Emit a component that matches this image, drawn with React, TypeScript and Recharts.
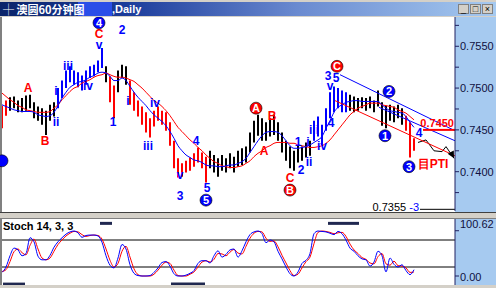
import React from 'react'
import { ComposedChart, Bar, Line, XAxis, YAxis, Cell, ReferenceLine, ReferenceDot } from 'recharts'

// price bars (one per hour)
const highs = [
  0.7479, 0.7485, 0.7489, 0.7490, 0.7485, 0.7488, 0.7491, 0.7492, 0.7483, 0.7478,
  0.7476, 0.7473, 0.7480, 0.7483, 0.7500, 0.7509, 0.7521, 0.7526, 0.7521, 0.7519,
  0.7515, 0.7521, 0.7526, 0.7528, 0.7533, 0.7548, 0.7526, 0.7514, 0.7503, 0.7521,
  0.7528, 0.7526, 0.7509, 0.7495, 0.7485, 0.7478, 0.7471, 0.7464, 0.7473, 0.7478,
  0.7473, 0.7471, 0.7459, 0.7437, 0.7416, 0.7410, 0.7413, 0.7417, 0.7422, 0.7429,
  0.7423, 0.7418, 0.7425, 0.7420, 0.7416, 0.7420, 0.7416, 0.7422, 0.7418, 0.7425,
  0.7428, 0.7430, 0.7447, 0.7461, 0.7468, 0.7464, 0.7459, 0.7464, 0.7468, 0.7459,
  0.7447, 0.7437, 0.7430, 0.7425, 0.7431, 0.7430, 0.7435, 0.7437, 0.7461, 0.7466,
  0.7456, 0.7476, 0.7495, 0.7502, 0.7500, 0.7497, 0.7495, 0.7492, 0.7490, 0.7488,
  0.7489, 0.7488, 0.7490, 0.7485, 0.7497, 0.7483, 0.7479, 0.7480, 0.7478, 0.7480,
  0.7476, 0.7467, 0.7459, 0.7440,
]
const lows = [
  0.7452, 0.7467, 0.7473, 0.7476, 0.7471, 0.7471, 0.7473, 0.7476, 0.7464, 0.7461,
  0.7456, 0.7444, 0.7461, 0.7466, 0.7476, 0.7488, 0.7500, 0.7507, 0.7504, 0.7501,
  0.7497, 0.7504, 0.7512, 0.7514, 0.7519, 0.7524, 0.7507, 0.7483, 0.7464, 0.7495,
  0.7512, 0.7504, 0.7480, 0.7473, 0.7466, 0.7456, 0.7447, 0.7441, 0.7454, 0.7461,
  0.7456, 0.7449, 0.7431, 0.7404, 0.7393, 0.7394, 0.7399, 0.7401, 0.7406, 0.7411,
  0.7404, 0.7387, 0.7404, 0.7399, 0.7394, 0.7401, 0.7399, 0.7404, 0.7399, 0.7406,
  0.7408, 0.7411, 0.7423, 0.7435, 0.7443, 0.7437, 0.7437, 0.7442, 0.7444, 0.7437,
  0.7423, 0.7413, 0.7404, 0.7401, 0.7411, 0.7413, 0.7417, 0.7419, 0.7437, 0.7442,
  0.7432, 0.7449, 0.7464, 0.7471, 0.7476, 0.7471, 0.7471, 0.7473, 0.7471, 0.7473,
  0.7476, 0.7473, 0.7476, 0.7471, 0.7478, 0.7455, 0.7452, 0.7461, 0.7459, 0.7464,
  0.7456, 0.7449, 0.7417, 0.7425,
]
// r = red wave, b = blue wave, k = plain
const barColors = 'rrkkkkkkkkkkkkbbbbbbbbbbbbkrrkkkrrrrrrrrrrrrrrrrrrrrkkkkkkkkkkkkkkkkkkkkkkkkkkbbbbbbbbbkkkkkkkkkkkkkkrrr'.split('')

const maSlow = [
  0.7494, 0.7490, 0.7486, 0.7483, 0.7479, 0.7477, 0.7474, 0.7473, 0.7472, 0.7471,
  0.7471, 0.7471, 0.7472, 0.7476, 0.7480, 0.7486, 0.7491, 0.7496, 0.7500, 0.7502,
  0.7506, 0.7508, 0.7510, 0.7513, 0.7515, 0.7516, 0.7518, 0.7516, 0.7514, 0.7513,
  0.7513, 0.7512, 0.7510, 0.7508, 0.7504, 0.7500, 0.7495, 0.7490, 0.7485, 0.7482,
  0.7478, 0.7473, 0.7467, 0.7460, 0.7453, 0.7448, 0.7443, 0.7438, 0.7434, 0.7429,
  0.7425, 0.7420, 0.7416, 0.7412, 0.7410, 0.7407, 0.7406, 0.7405, 0.7405, 0.7406,
  0.7407, 0.7410, 0.7413, 0.7418, 0.7422, 0.7425, 0.7429, 0.7431, 0.7434, 0.7435,
  0.7435, 0.7435, 0.7434, 0.7434, 0.7432, 0.7431, 0.7430, 0.7429, 0.7429, 0.7430,
  0.7431, 0.7434, 0.7438, 0.7444, 0.7450, 0.7456, 0.7462, 0.7468, 0.7472, 0.7476,
  0.7478, 0.7480, 0.7482, 0.7482, 0.7482, 0.7480, 0.7479, 0.7478, 0.7477, 0.7474,
  0.7472, 0.7470, 0.7466, 0.7462,
]
const maFast = [
  0.7480, 0.7478, 0.7476, 0.7474, 0.7473, 0.7472, 0.7472, 0.7472, 0.7471, 0.7468,
  0.7467, 0.7466, 0.7467, 0.7471, 0.7479, 0.7488, 0.7495, 0.7501, 0.7504, 0.7507,
  0.7508, 0.7510, 0.7513, 0.7515, 0.7518, 0.7519, 0.7518, 0.7514, 0.7509, 0.7509,
  0.7512, 0.7509, 0.7502, 0.7495, 0.7489, 0.7484, 0.7479, 0.7473, 0.7468, 0.7464,
  0.7460, 0.7455, 0.7448, 0.7440, 0.7431, 0.7425, 0.7420, 0.7417, 0.7414, 0.7413,
  0.7411, 0.7408, 0.7407, 0.7407, 0.7406, 0.7406, 0.7407, 0.7408, 0.7408, 0.7410,
  0.7412, 0.7416, 0.7423, 0.7430, 0.7437, 0.7443, 0.7447, 0.7448, 0.7448, 0.7447,
  0.7443, 0.7437, 0.7431, 0.7428, 0.7428, 0.7429, 0.7430, 0.7432, 0.7435, 0.7438,
  0.7442, 0.7452, 0.7461, 0.7471, 0.7477, 0.7480, 0.7483, 0.7484, 0.7485, 0.7485,
  0.7484, 0.7484, 0.7484, 0.7484, 0.7484, 0.7480, 0.7476, 0.7473, 0.7472, 0.7471,
  0.7470, 0.7466, 0.7459, 0.7453,
]

// projected path drawn after the last bar
const projIdx = [104, 106, 108, 110, 111, 113]
const projVal = [0.7435, 0.7438, 0.7425, 0.7424, 0.7430, 0.7416]

const stochK = [
  8, 20, 45, 62, 58, 45, 50, 85, 76, 44,
  36, 36, 46, 64, 76, 85, 93, 98, 100, 96,
  86, 90, 91, 91, 89, 75, 45, 24, 18, 40,
  70, 60, 25, 6, 1, 0, 0, 1, 8, 18,
  30, 32, 22, 5, 0, 0, 2, 6, 12, 28,
  34, 34, 29, 45, 56, 42, 48, 58, 60, 42,
  56, 76, 92, 98, 100, 94, 74, 80, 76, 55,
  38, 20, 5, 0, 9, 28, 35, 50, 94, 100,
  99, 98, 95, 92, 99, 94, 80, 62, 55, 45,
  38, 36, 22, 31, 55, 45, 9, 40, 26, 20,
  25, 12, 3, 14,
]
const stochD = [
  10, 14, 32, 54, 60, 52, 47, 68, 82, 60,
  40, 36, 40, 55, 70, 80, 89, 95, 99, 98,
  92, 88, 90, 91, 90, 82, 60, 35, 20, 28,
  55, 66, 42, 16, 3, 0, 0, 0, 4, 13,
  24, 31, 28, 13, 1, 0, 0, 4, 9, 20,
  31, 34, 31, 37, 50, 49, 45, 53, 59, 51,
  49, 66, 84, 95, 99, 98, 84, 77, 78, 65,
  46, 29, 12, 1, 4, 18, 32, 42, 72, 97,
  100, 99, 97, 94, 96, 97, 88, 71, 58, 50,
  41, 37, 29, 27, 43, 50, 27, 24, 33, 23,
  22, 18, 8, 9,
]

const priceTicks = [0.7375, 0.74, 0.7425, 0.745, 0.7475, 0.75, 0.7525, 0.755, 0.7575]
const majorTicks = [0.74, 0.745, 0.75, 0.755]

const RED = '#ff0000'
const BLUE = '#0000ff'
const colorOf: Record<string, string> = { r: RED, b: BLUE, k: '#000000' }

// Elliott wave labels: [text, bar index, price, colour, circled]
const waveLabels: [string, number, number, string, boolean][] = [
  ['A', 6.5, 0.7500, RED, false],
  ['B', 10.75, 0.7437, RED, false],
  ['i', 13.5, 0.7497, BLUE, false],
  ['ii', 13.5, 0.7460, BLUE, false],
  ['iii', 16.5, 0.7527, BLUE, false],
  ['iv', 21.5, 0.7503, BLUE, false],
  ['v', 24.25, 0.7551, BLUE, false],
  ['C', 24.25, 0.7565, RED, false],
  ['4', 24.25, 0.7578, BLUE, true],
  ['2', 30, 0.7569, BLUE, false],
  ['1', 27.75, 0.7459, BLUE, false],
  ['i', 31.5, 0.7485, BLUE, false],
  ['iii', 36.5, 0.7431, BLUE, false],
  ['iv', 38.25, 0.7482, BLUE, false],
  ['v', 44.5, 0.7396, BLUE, false],
  ['3', 44.5, 0.7371, BLUE, false],
  ['4', 48.5, 0.7437, BLUE, false],
  ['5', 51.25, 0.7381, BLUE, false],
  ['5', 51, 0.7366, BLUE, true],
  ['A', 63.5, 0.7476, RED, true],
  ['A', 65.5, 0.7425, RED, false],
  ['B', 67.5, 0.7467, RED, false],
  ['1', 74, 0.7435, BLUE, false],
  ['i', 76.5, 0.7435, BLUE, false],
  ['ii', 76.75, 0.7412, BLUE, false],
  ['2', 74.75, 0.7402, BLUE, false],
  ['C', 72, 0.7393, RED, false],
  ['B', 72, 0.7378, RED, true],
  ['iii', 78, 0.7450, BLUE, false],
  ['iv', 80, 0.7431, BLUE, false],
  ['4', 82.25, 0.7458, BLUE, false],
  ['3', 81.5, 0.7514, BLUE, false],
  ['5', 83.5, 0.7512, BLUE, false],
  ['v', 82, 0.7502, BLUE, false],
  ['C', 83.75, 0.7526, RED, true],
  ['2', 96.75, 0.7496, BLUE, true],
  ['1', 95.75, 0.7443, BLUE, true],
  ['3', 101.75, 0.7406, BLUE, true],
  ['4', 104.25, 0.7446, BLUE, false],
]

// trend channel lines: [x1, y1, x2, y2, colour]
const channels: [number, number, number, number, string][] = [
  [84.5, 0.7516, 113.25, 0.7449, BLUE],
  [94.25, 0.7477, 113.25, 0.7437, BLUE],
  [83.25, 0.7485, 113.25, 0.7419, RED],
]

const targetPrice = 0.7450
const lowPrice = 0.7355

const FONT = '"Liberation Sans", Arial, sans-serif'

const priceData = Array.from({ length: 114 }, (_, i) => ({
  i,
  range: i < highs.length ? [lows[i], highs[i]] : null,
  slow: i < maSlow.length ? maSlow[i] : null,
  fast: i < maFast.length ? maFast[i] : null,
  proj: projIdx.includes(i) ? projVal[projIdx.indexOf(i)] : null,
  col: barColors[i] || 'k',
}))

const stochData = stochK.map((k, i) => ({ i, k, d: stochD[i] }))

const PriceTick = ({ x, y, payload }: any) => {
  const major = majorTicks.some(v => Math.abs(v - payload.value) < 1e-6)
  return (
    <g>
      <line x1={x} x2={x + 4} y1={y} y2={y} stroke="#202060" />
      {major && (
        <text x={x + 5} y={y + 4} fontSize={11} fill="#101040" fontFamily={FONT}>
          {payload.value.toFixed(4)}
        </text>
      )}
    </g>
  )
}

const StochTick = ({ x, y, payload }: any) => {
  const top = payload.value > 50
  return (
    <g>
      <line x1={x} x2={x + 4} y1={y} y2={y} stroke="#202060" />
      <text x={x + 5} y={top ? y - 3 : y + 5} fontSize={11} fill="#101040" fontFamily={FONT}>
        {payload.value.toFixed(2)}
      </text>
    </g>
  )
}

const WaveMark = ({ cx, cy, text, color, circled }: any) => {
  if (circled) {
    return (
      <g>
        <circle cx={cx} cy={cy} r={6} fill={color} stroke="#000" strokeWidth={0.6} />
        <text x={cx} y={cy + 4} textAnchor="middle" fontSize={11} fontWeight="bold" fill="#fff" fontFamily={FONT}>
          {text}
        </text>
      </g>
    )
  }
  return (
    <text x={cx} y={cy + 4} textAnchor="middle" fontSize={12} fontWeight="bold" fill={color} fontFamily={FONT}>
      {text}
    </text>
  )
}

const ArrowDot = (props: any) => {
  const { cx, cy, index } = props
  if (index !== 113 || cx == null) return <g key={index} />
  const dx = 0.47, dy = 0.88
  const bx = cx - 7 * dx, by = cy - 7 * dy
  return (
    <polygon key={index}
      points={`${cx},${cy} ${bx - 3.5 * dy},${by + 3.5 * dx} ${bx + 3.5 * dy},${by - 3.5 * dx}`}
      fill="#000" />
  )
}

export default function App() {
  return (
    <div style={{ position: 'fixed', left: 0, top: 0, width: 496, height: 288, background: '#d4d0c8', overflow: 'hidden', fontFamily: FONT }}>
      {/* title bar */}
      <div style={{ position: 'absolute', left: 0, top: 2, width: 496, height: 14, background: 'linear-gradient(to right, #0a246a 0%, #1a3a9a 25%, #6a8ad0 60%, #a6caf0 100%)' }} />
      <div style={{ position: 'absolute', left: 78, top: 2, width: 34, height: 14, background: '#2a4ee8' }} />
      <div style={{ position: 'absolute', left: 3, top: 2, height: 14, lineHeight: '14px', color: '#fff', fontSize: 11, fontWeight: 'bold', fontFamily: '"Noto Sans CJK SC", sans-serif', whiteSpace: 'nowrap' }}>
        ┼ 澳圆60分钟图
      </div>
      <div style={{ position: 'absolute', left: 112, top: 2, height: 14, lineHeight: '14px', color: '#fff', fontSize: 11, fontWeight: 'bold', whiteSpace: 'nowrap' }}>
        ,Daily
      </div>
      {['_', '□', '×'].map((s, k) => (
        <div key={k} style={{ position: 'absolute', left: 458 + k * 12, top: 4, width: 11, height: 10, background: '#d4d0c8', border: '1px solid #808080', boxSizing: 'border-box', fontSize: 9, lineHeight: '8px', textAlign: 'center', color: '#000' }}>{s}</div>
      ))}

      {/* panel backgrounds */}
      <div style={{ position: 'absolute', left: 2, top: 17, width: 453, height: 195, background: '#fff' }} />
      <div style={{ position: 'absolute', left: 455, top: 17, width: 41, height: 195, background: '#a6caf0' }} />
      <div style={{ position: 'absolute', left: 0, top: 17, width: 2, height: 268, background: '#808080' }} />
      <div style={{ position: 'absolute', left: 0, top: 212, width: 496, height: 7, background: '#d4d0c8', borderTop: '1px solid #404040', borderBottom: '1px solid #808080', boxSizing: 'border-box' }} />
      <div style={{ position: 'absolute', left: 2, top: 219, width: 453, height: 66, background: '#fff' }} />
      <div style={{ position: 'absolute', left: 455, top: 219, width: 41, height: 66, background: '#a6caf0' }} />

      {/* price panel */}
      <div style={{ position: 'absolute', left: 0, top: 17 }}>
        <ComposedChart width={496} height={196} data={priceData} margin={{ top: 0, right: 0, bottom: 2, left: 2 }}>
          <XAxis dataKey="i" type="number" domain={[0, 113.25]} hide allowDataOverflow />
          <YAxis orientation="right" width={41} domain={[0.7353, 0.7585]} ticks={priceTicks} allowDataOverflow
            tick={<PriceTick />} tickLine={false} tickSize={0} tickMargin={0} axisLine={{ stroke: '#202060' }} interval={0} />
          <Bar dataKey="range" barSize={2} isAnimationActive={false}>
            {priceData.map((d, k) => <Cell key={k} fill={colorOf[d.col]} />)}
          </Bar>
          <Line dataKey="slow" stroke={RED} strokeWidth={1} dot={false} isAnimationActive={false} type="monotone" />
          <Line dataKey="fast" stroke={BLUE} strokeWidth={1} dot={false} isAnimationActive={false} type="monotone" />
          <Line dataKey="proj" stroke="#000" strokeWidth={1} dot={<ArrowDot />} connectNulls isAnimationActive={false} />
          {channels.map((c, k) => (
            <ReferenceLine key={`ch${k}`} segment={[{ x: c[0], y: c[1] }, { x: c[2], y: c[3] }]} stroke={c[4]} strokeWidth={1} />
          ))}
          <ReferenceLine segment={[{ x: 105.25, y: targetPrice }, { x: 113.25, y: targetPrice }]} stroke={RED} strokeWidth={2} />
          <ReferenceDot x={113} y={targetPrice} r={0}
            shape={(p: any) => (
              <text x={p.cx} y={p.cy - 3} textAnchor="end" fontSize={11} fontWeight="bold" fill={RED} fontFamily={FONT}>{targetPrice.toFixed(4)}</text>
            )} />
          <ReferenceDot x={107.75} y={0.7410} r={0}
            shape={(p: any) => (
              <text x={p.cx} y={p.cy + 5} textAnchor="middle" fontSize={12} fontWeight="bold" fill={RED} fontFamily={FONT}>目PTI</text>
            )} />
          <ReferenceLine segment={[{ x: 104.5, y: lowPrice }, { x: 113.25, y: lowPrice }]} stroke="#000" strokeWidth={1} />
          <ReferenceDot x={104.25} y={lowPrice} r={0}
            shape={(p: any) => (
              <text x={p.cx} y={p.cy + 2} textAnchor="end" fontSize={11} fill="#000" fontFamily={FONT}>
                {lowPrice.toFixed(4)}<tspan fill={BLUE}> -3</tspan>
              </text>
            )} />
          <ReferenceDot x={0} y={0.7413} r={6} fill={BLUE} stroke="#000" strokeWidth={0.6} />
          {waveLabels.map((w, k) => (
            <ReferenceDot key={`w${k}`} x={w[1]} y={w[2]} r={0}
              shape={(p: any) => <WaveMark cx={p.cx} cy={p.cy} text={w[0]} color={w[3]} circled={w[4]} />} />
          ))}
        </ComposedChart>
      </div>

      {/* stochastic panel */}
      <div style={{ position: 'absolute', left: 0, top: 219 }}>
        <ComposedChart width={496} height={66} data={stochData} margin={{ top: 0, right: 0, bottom: 0, left: 2 }}>
          <XAxis dataKey="i" type="number" domain={[0, 113.25]} hide allowDataOverflow />
          <YAxis orientation="right" width={41} domain={[-20, 126.7]} ticks={[0, 100.62]} allowDataOverflow
            tick={<StochTick />} tickLine={false} tickSize={0} tickMargin={0} axisLine={{ stroke: '#202060' }} interval={0} />
          <ReferenceLine y={80} stroke="#000" strokeWidth={1} />
          <ReferenceLine y={20} stroke="#000" strokeWidth={1} />
          <ReferenceLine segment={[{ x: 24.5, y: 117 }, { x: 27.5, y: 117 }]} stroke="#202850" strokeWidth={3} />
          <ReferenceLine segment={[{ x: 81.5, y: 117 }, { x: 89.25, y: 117 }]} stroke="#202850" strokeWidth={3} />
          <ReferenceLine segment={[{ x: 0.25, y: -18 }, { x: 5.75, y: -18 }]} stroke="#202850" strokeWidth={3} />
          <ReferenceLine segment={[{ x: 42.25, y: -18 }, { x: 50.75, y: -18 }]} stroke="#202850" strokeWidth={3} />
          <Line dataKey="d" stroke={RED} strokeWidth={1} dot={false} isAnimationActive={false} type="monotone" />
          <Line dataKey="k" stroke={BLUE} strokeWidth={1} dot={false} isAnimationActive={false} type="monotone" />
        </ComposedChart>
      </div>
      <div style={{ position: 'absolute', left: 3, top: 220, fontSize: 11, fontWeight: 'bold', color: '#000', whiteSpace: 'nowrap' }}>
        Stoch 14, 3, 3
      </div>
    </div>
  )
}
